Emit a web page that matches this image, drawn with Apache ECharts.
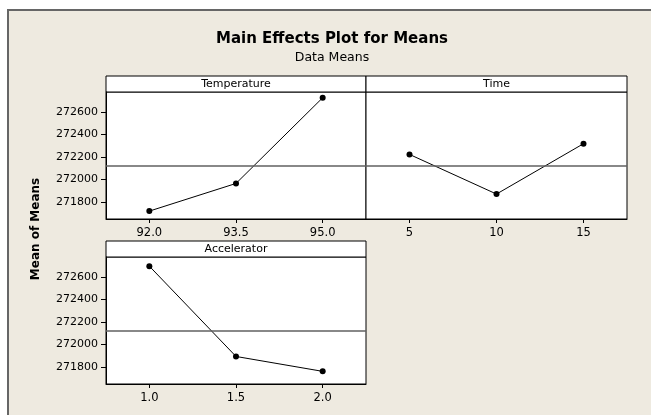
<!DOCTYPE html>
<html>
<head>
<meta charset="utf-8">
<script src="https://cdn.jsdelivr.net/npm/echarts@6/dist/echarts.min.js"></script>
<style>
html,body{margin:0;padding:0;background:#fff;}
#c{width:651px;height:415px;}
</style>
</head>
<body>
<div id="c"></div>
<script>
const titleText = 'Main Effects Plot for Means';
const subtitleText = 'Data Means';
const yAxisTitle = 'Mean of Means';
const temperatureLevels = ['92.0', '93.5', '95.0'];
const temperatureMeans = [271720, 271965, 272724];
const timeLevels = ['5', '10', '15'];
const timeMeans = [272222, 271871, 272317];
const acceleratorLevels = ['1.0', '1.5', '2.0'];
const acceleratorMeans = [272694, 271894, 271762];
const grandMean = 272125;
const yTicks = [271800, 272000, 272200, 272400, 272600];
const yMin = 271650, yMax = 272775;

const panels = [
  {name: 'Temperature', levels: temperatureLevels, means: temperatureMeans, left: 106, top: 92, width: 260, showY: true},
  {name: 'Time', levels: timeLevels, means: timeMeans, left: 366, top: 92, width: 261, showY: false},
  {name: 'Accelerator', levels: acceleratorLevels, means: acceleratorMeans, left: 106, top: 257, width: 260, showY: true}
];
const H = 127, HEAD = 16;
const FONT = 'DejaVu Sans';

const chart = echarts.init(document.getElementById('c'), null, {renderer: 'canvas'});
const grids = [], xAxes = [], yAxes = [], series = [], graphics = [];

graphics.push({type: 'rect', z: -100, shape: {x: 8, y: 10, width: 700, height: 500},
  style: {fill: '#EEEAE0', stroke: '#666', lineWidth: 2}});
graphics.push({type: 'text', style: {text: titleText, x: 332, y: 32, textAlign: 'center',
  font: 'bold 15px "DejaVu Sans"', fill: '#000'}});
graphics.push({type: 'text', style: {text: subtitleText, x: 332, y: 51, textAlign: 'center',
  font: '12.5px "DejaVu Sans"', fill: '#000'}});
graphics.push({type: 'text', x: 36, y: 229, rotation: Math.PI / 2,
  style: {text: yAxisTitle, x: 0, y: 0, textAlign: 'center', textVerticalAlign: 'middle',
  font: 'bold 12px "DejaVu Sans"', fill: '#000'}});

panels.forEach((p, i) => {
  grids.push({left: p.left, top: p.top, width: p.width, height: H, show: true,
    backgroundColor: '#fff', borderColor: '#000', borderWidth: 1, containLabel: false});
  xAxes.push({type: 'category', gridIndex: i, data: p.levels, boundaryGap: true,
    axisLine: {show: true, lineStyle: {color: '#000', width: 1}},
    axisTick: {show: true, alignWithLabel: true, length: 4, lineStyle: {color: '#000'}},
    axisLabel: {show: true, margin: 8, color: '#000', fontSize: 11.5, fontFamily: FONT},
    splitLine: {show: false}});
  yAxes.push({type: 'value', gridIndex: i, min: yMin, max: yMax,
    axisLine: {show: p.showY, lineStyle: {color: '#000', width: 1}},
    axisTick: {show: p.showY, length: 5, customValues: yTicks, lineStyle: {color: '#000'}},
    axisLabel: {show: p.showY, customValues: yTicks, margin: 8, color: '#000', fontSize: 11,
      fontFamily: FONT, formatter: v => String(v)},
    splitLine: {show: false}});
  series.push({type: 'line', xAxisIndex: i, yAxisIndex: i, data: p.means,
    symbol: 'circle', symbolSize: 6, itemStyle: {color: '#000'},
    lineStyle: {color: '#000', width: 1}, silent: true, animation: false,
    markLine: {silent: true, symbol: 'none', label: {show: false},
      lineStyle: {color: '#606060', width: 1.5, type: 'solid'},
      data: [{yAxis: grandMean}]}});
  graphics.push({type: 'rect', shape: {x: p.left, y: p.top - HEAD, width: p.width, height: HEAD},
    style: {fill: '#fff', stroke: '#000', lineWidth: 1}});
  graphics.push({type: 'text', style: {text: p.name, x: p.left + p.width / 2, y: p.top - HEAD / 2,
    textAlign: 'center', textVerticalAlign: 'middle', font: '11px "DejaVu Sans"', fill: '#000'}});
});

chart.setOption({
  animation: false,
  backgroundColor: '#fff',
  grid: grids, xAxis: xAxes, yAxis: yAxes, series: series,
  graphic: {elements: graphics}
});
</script>
</body>
</html>
